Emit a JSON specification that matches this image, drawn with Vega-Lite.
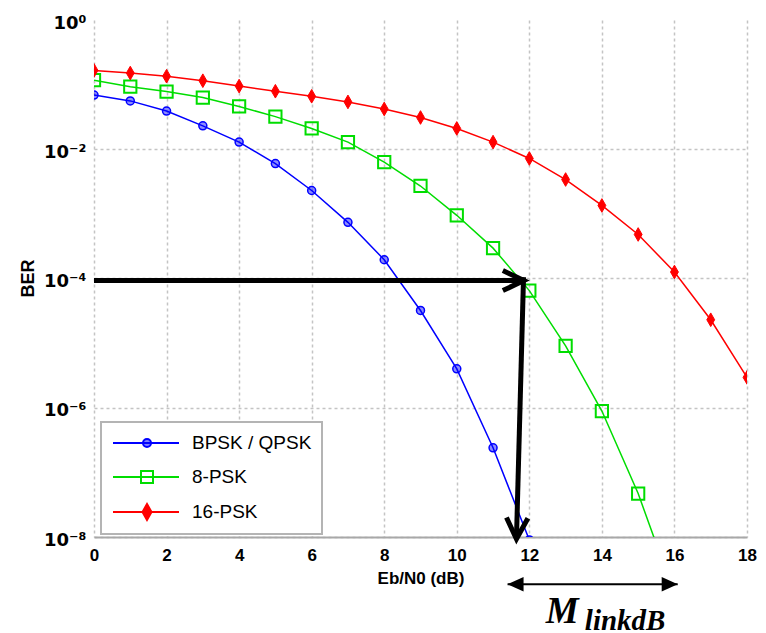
{
  "$schema": "https://vega.github.io/schema/vega-lite/v6.json",
  "width": 653,
  "height": 517,
  "autosize": {"type": "none"},
  "padding": {"left": 94, "top": 20, "right": 19, "bottom": 96},
  "background": "white",
  "config": {"view": {"stroke": null}, "font": "Liberation Sans"},
  "datasets": {
    "ber": [
      {"scheme": "BPSK / QPSK", "x": 0, "y": 0.069},
      {"scheme": "BPSK / QPSK", "x": 1, "y": 0.056},
      {"scheme": "BPSK / QPSK", "x": 2, "y": 0.039},
      {"scheme": "BPSK / QPSK", "x": 3, "y": 0.023},
      {"scheme": "BPSK / QPSK", "x": 4, "y": 0.0129},
      {"scheme": "BPSK / QPSK", "x": 5, "y": 0.006},
      {"scheme": "BPSK / QPSK", "x": 6, "y": 0.0023},
      {"scheme": "BPSK / QPSK", "x": 7, "y": 0.00074},
      {"scheme": "BPSK / QPSK", "x": 8, "y": 0.000195},
      {"scheme": "BPSK / QPSK", "x": 9, "y": 0.000032},
      {"scheme": "BPSK / QPSK", "x": 10, "y": 0.000004},
      {"scheme": "BPSK / QPSK", "x": 11, "y": 0.00000024},
      {"scheme": "BPSK / QPSK", "x": 12, "y": 0.000000009},
      {"scheme": "8-PSK", "x": 0, "y": 0.117},
      {"scheme": "8-PSK", "x": 1, "y": 0.093},
      {"scheme": "8-PSK", "x": 2, "y": 0.078},
      {"scheme": "8-PSK", "x": 3, "y": 0.063},
      {"scheme": "8-PSK", "x": 4, "y": 0.046},
      {"scheme": "8-PSK", "x": 5, "y": 0.032},
      {"scheme": "8-PSK", "x": 6, "y": 0.021},
      {"scheme": "8-PSK", "x": 7, "y": 0.0129},
      {"scheme": "8-PSK", "x": 8, "y": 0.0063},
      {"scheme": "8-PSK", "x": 9, "y": 0.0027},
      {"scheme": "8-PSK", "x": 10, "y": 0.00095},
      {"scheme": "8-PSK", "x": 11, "y": 0.000295},
      {"scheme": "8-PSK", "x": 12, "y": 0.000065},
      {"scheme": "8-PSK", "x": 13, "y": 0.0000091},
      {"scheme": "8-PSK", "x": 14, "y": 0.00000089},
      {"scheme": "8-PSK", "x": 15, "y": 0.000000047},
      {"scheme": "8-PSK", "x": 16, "y": 0.0000000013},
      {"scheme": "16-PSK", "x": 0, "y": 0.166},
      {"scheme": "16-PSK", "x": 1, "y": 0.151},
      {"scheme": "16-PSK", "x": 2, "y": 0.135},
      {"scheme": "16-PSK", "x": 3, "y": 0.115},
      {"scheme": "16-PSK", "x": 4, "y": 0.095},
      {"scheme": "16-PSK", "x": 5, "y": 0.079},
      {"scheme": "16-PSK", "x": 6, "y": 0.066},
      {"scheme": "16-PSK", "x": 7, "y": 0.054},
      {"scheme": "16-PSK", "x": 8, "y": 0.042},
      {"scheme": "16-PSK", "x": 9, "y": 0.031},
      {"scheme": "16-PSK", "x": 10, "y": 0.021},
      {"scheme": "16-PSK", "x": 11, "y": 0.0129},
      {"scheme": "16-PSK", "x": 12, "y": 0.0072},
      {"scheme": "16-PSK", "x": 13, "y": 0.0034},
      {"scheme": "16-PSK", "x": 14, "y": 0.00135},
      {"scheme": "16-PSK", "x": 15, "y": 0.00048},
      {"scheme": "16-PSK", "x": 16, "y": 0.000126},
      {"scheme": "16-PSK", "x": 17, "y": 0.000023},
      {"scheme": "16-PSK", "x": 18, "y": 0.00000295}
    ],
    "arrows": [
      {"seg": "h", "ord": 0, "x": 0, "y": 0.000093},
      {"seg": "h", "ord": 1, "x": 11.85, "y": 0.000093},
      {"seg": "hc", "ord": 0, "x": 11.27, "y": 0.000133},
      {"seg": "hc", "ord": 1, "x": 11.85, "y": 0.000093},
      {"seg": "hc", "ord": 2, "x": 11.27, "y": 0.000065},
      {"seg": "v", "ord": 0, "x": 11.84, "y": 0.000105},
      {"seg": "v", "ord": 1, "x": 11.645, "y": 0.0000000093},
      {"seg": "vc", "ord": 0, "x": 11.37, "y": 0.00000002},
      {"seg": "vc", "ord": 1, "x": 11.645, "y": 0.0000000093},
      {"seg": "vc", "ord": 2, "x": 11.96, "y": 0.0000000195}
    ],
    "margin": [{"x": 11.4, "x2": 16.09, "y": 0.00000000186}],
    "mlabel": [{"x": 12.45, "y": 0.00000000046, "text": "M"}],
    "msub": [{"x": 13.53, "y": 0.00000000036, "text": "linkdB"}]
  },
  "layer": [
    {
      "data": {"name": "ber"},
      "mark": {"type": "line", "strokeWidth": 1.5, "clip": true},
      "encoding": {
        "x": {
          "field": "x", "type": "quantitative",
          "scale": {"domain": [0, 18], "nice": false, "zero": false},
          "axis": {
            "values": [0, 2, 4, 6, 8, 10, 12, 14, 16, 18],
            "title": "Eb/N0 (dB)",
            "titleFontSize": 17, "titleFontWeight": "bold", "titleColor": "black", "titlePadding": 7,
            "labelFontSize": 17, "labelFontWeight": "bold", "labelColor": "black", "labelPadding": 10, "labelFlush": false,
            "ticks": false,
            "domain": true, "domainColor": "#a8a8a8", "domainWidth": 2,
            "grid": true, "gridColor": "#c4c4c4", "gridDash": [3, 3], "gridWidth": 1.5
          }
        },
        "y": {
          "field": "y", "type": "quantitative",
          "scale": {"type": "log", "domain": [0.00000001, 1], "nice": false},
          "axis": {
            "values": [1, 0.01, 0.0001, 0.000001, 0.00000001],
            "labelExpr": "datum.value > 0.5 ? '10⁰' : datum.value > 0.005 ? '10⁻²' : datum.value > 0.00005 ? '10⁻⁴' : datum.value > 0.0000005 ? '10⁻⁶' : '10⁻⁸'",
            "labelFont": "DejaVu Sans", "labelFontSize": 18, "labelFontWeight": "bold", "labelColor": "black", "labelPadding": 8, "labelFlush": false, "labelOffset": 3,
            "title": "BER", "titleFontSize": 18, "titleFontWeight": "bold", "titleColor": "black",
            "titleX": -66, "titleY": 258, "titleAngle": -90, "titleAlign": "center", "titleBaseline": "middle",
            "ticks": false, "domain": false,
            "grid": true, "gridColor": "#c4c4c4", "gridDash": [3, 3], "gridWidth": 1.5,
            "gridOpacity": {"condition": {"test": "datum.value > 0.5", "value": 0}, "value": 1}
          }
        },
        "color": {
          "field": "scheme", "type": "nominal",
          "scale": {"domain": ["BPSK / QPSK", "8-PSK", "16-PSK"], "range": ["#0000ff", "#00dd00", "#ff0000"]},
          "legend": {
            "orient": "none", "legendX": 7, "legendY": 402, "title": null,
            "padding": 10, "rowPadding": 13,
            "strokeColor": "#b4b4b4", "fillColor": "white",
            "symbolSize": 400, "symbolStrokeWidth": 2,
            "labelOffset": 59, "labelFontSize": 19, "labelFont": "Liberation Sans", "labelColor": "black", "labelLimit": 0,
            "encode": {
              "legend": {"update": {"strokeWidth": {"value": 2}}},
              "symbols": {"update": {
                "shape": {"signal": "datum.value == 'BPSK / QPSK' ? 'M-0.9,0L5.7,0M2.1,0A0.4,0.4 0 1,0 2.9,0A0.4,0.4 0 1,0 2.1,0Z' : datum.value == '8-PSK' ? 'M-0.9,0L5.7,0M1.9,-0.6L3.1,-0.6L3.1,0.6L1.9,0.6Z' : 'M-0.9,0L5.7,0M2.5,-0.8L2.95,0L2.5,0.8L2.05,0Z'"},
                "fill": {"signal": "datum.value == 'BPSK / QPSK' ? 'rgba(0,0,255,0.5)' : datum.value == '8-PSK' ? 'transparent' : '#ff0000'"},
                "stroke": {"signal": "datum.value == 'BPSK / QPSK' ? '#0000ff' : datum.value == '8-PSK' ? '#00dd00' : '#ff0000'"},
                "strokeWidth": {"value": 2},
                "size": {"value": 400},
                "opacity": {"value": 1}
              }}
            }
          }
        }
      }
    },
    {
      "data": {"name": "ber"},
      "transform": [{"filter": "datum.scheme == 'BPSK / QPSK'"}],
      "mark": {"type": "point", "shape": "circle", "size": 64, "filled": true, "fill": "#0000ff", "fillOpacity": 0.45, "stroke": "#0000ff", "strokeWidth": 1.5, "opacity": 1, "clip": true},
      "encoding": {"x": {"field": "x", "type": "quantitative"}, "y": {"field": "y", "type": "quantitative"}}
    },
    {
      "data": {"name": "ber"},
      "transform": [{"filter": "datum.scheme == '8-PSK'"}],
      "mark": {"type": "point", "shape": "square", "size": 150, "filled": false, "stroke": "#00dd00", "strokeWidth": 2, "opacity": 1, "clip": true},
      "encoding": {"x": {"field": "x", "type": "quantitative"}, "y": {"field": "y", "type": "quantitative"}}
    },
    {
      "data": {"name": "ber"},
      "transform": [{"filter": "datum.scheme == '16-PSK'"}],
      "mark": {"type": "point", "shape": "M0,-1.3L0.75,0L0,1.3L-0.75,0Z", "size": 110, "filled": true, "fill": "#ff0000", "stroke": "#ff0000", "strokeWidth": 1, "opacity": 1, "clip": true},
      "encoding": {"x": {"field": "x", "type": "quantitative"}, "y": {"field": "y", "type": "quantitative"}}
    },
    {
      "data": {"name": "arrows"},
      "mark": {"type": "line", "color": "black", "strokeWidth": 5, "strokeCap": "butt", "strokeJoin": "miter", "clip": false},
      "encoding": {
        "x": {"field": "x", "type": "quantitative"},
        "y": {"field": "y", "type": "quantitative"},
        "detail": {"field": "seg", "type": "nominal"},
        "order": {"field": "ord", "type": "quantitative"}
      }
    },
    {
      "data": {"name": "margin"},
      "mark": {"type": "rule", "color": "black", "strokeWidth": 2, "clip": false},
      "encoding": {
        "x": {"field": "x", "type": "quantitative"},
        "x2": {"field": "x2"},
        "y": {"field": "y", "type": "quantitative"}
      }
    },
    {
      "data": {"name": "margin"},
      "mark": {"type": "point", "shape": "M0,0L2,-0.9L2,0.9Z", "size": 256, "filled": true, "color": "black", "opacity": 1, "clip": false},
      "encoding": {"x": {"field": "x", "type": "quantitative"}, "y": {"field": "y", "type": "quantitative"}}
    },
    {
      "data": {"name": "margin"},
      "mark": {"type": "point", "shape": "M0,0L-2,-0.9L-2,0.9Z", "size": 256, "filled": true, "color": "black", "opacity": 1, "clip": false},
      "encoding": {"x": {"field": "x2", "type": "quantitative"}, "y": {"field": "y", "type": "quantitative"}}
    },
    {
      "data": {"name": "mlabel"},
      "mark": {"type": "text", "font": "Liberation Serif", "fontSize": 37, "fontStyle": "italic", "fontWeight": "bold", "align": "left", "baseline": "alphabetic", "color": "black", "clip": false},
      "encoding": {"x": {"field": "x", "type": "quantitative"}, "y": {"field": "y", "type": "quantitative"}, "text": {"field": "text"}}
    },
    {
      "data": {"name": "msub"},
      "mark": {"type": "text", "font": "Liberation Serif", "fontSize": 29, "fontStyle": "italic", "fontWeight": "bold", "align": "left", "baseline": "alphabetic", "color": "black", "clip": false},
      "encoding": {"x": {"field": "x", "type": "quantitative"}, "y": {"field": "y", "type": "quantitative"}, "text": {"field": "text"}}
    }
  ]
}
